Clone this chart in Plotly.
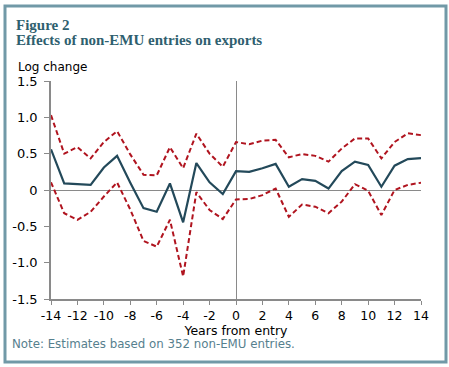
import plotly.graph_objects as go

years = list(range(-14, 15))
estimate = [0.56, 0.09, 0.08, 0.07, 0.31, 0.47, 0.10, -0.25, -0.30, 0.09, -0.445, 0.37, 0.105, -0.055,
            0.26, 0.25, 0.30, 0.36, 0.045, 0.15, 0.125, 0.02, 0.26, 0.39, 0.345, 0.045, 0.335, 0.425, 0.44]
upper = [1.03, 0.50, 0.59, 0.435, 0.66, 0.81, 0.49, 0.21, 0.20, 0.59, 0.30, 0.775, 0.50, 0.32,
         0.66, 0.63, 0.68, 0.69, 0.45, 0.495, 0.47, 0.39, 0.57, 0.71, 0.71, 0.435, 0.66, 0.78, 0.755]
lower = [0.105, -0.32, -0.41, -0.30, -0.09, 0.105, -0.27, -0.70, -0.78, -0.41, -1.19, -0.03, -0.275, -0.40,
         -0.13, -0.125, -0.07, 0.02, -0.37, -0.20, -0.23, -0.32, -0.16, 0.08, -0.01, -0.345, 0.0, 0.07, 0.10]
x_ticks = list(range(-14, 15, 2))
y_ticks = [-1.5, -1.0, -0.5, 0, 0.5, 1.0, 1.5]
y_tick_text = ["-1.5", "-1.0", "-0.5", "0", "0.5", "1.0", "1.5"]

W, H = 449, 367
L, R, T, B = 51, 28, 81, 68
pw, ph = W - L - R, H - T - B

def px(xp):
    return (xp - L) / pw

def py(yp):
    return (H - B - yp) / ph

red = "#b0141f"
teal = "#23495a"
axis_grey = "#8a8a8a"

fig = go.Figure()
fig.add_trace(go.Scatter(x=years, y=upper, mode="lines",
                         line=dict(color=red, width=2, dash="5px,3px"), showlegend=False))
fig.add_trace(go.Scatter(x=years, y=lower, mode="lines",
                         line=dict(color=red, width=2, dash="5px,3px"), showlegend=False))
fig.add_trace(go.Scatter(x=years, y=estimate, mode="lines",
                         line=dict(color=teal, width=2.2), showlegend=False))

fig.update_layout(
    width=W, height=H,
    margin=dict(l=L, r=R, t=T, b=B),
    paper_bgcolor="white", plot_bgcolor="white",
    font=dict(family="DejaVu Sans", size=12, color="black"),
    xaxis=dict(range=[-14, 14], tickvals=x_ticks, ticktext=[str(v) for v in x_ticks],
               showgrid=False, zeroline=True, zerolinecolor=axis_grey, zerolinewidth=1,
               showline=True, linecolor=axis_grey, linewidth=1.5,
               ticks="outside", ticklen=4, tickcolor=axis_grey,
               tickfont=dict(family="DejaVu Sans", size=12.5, color="black"),
               title=dict(text="Years from entry", standoff=0,
                          font=dict(family="DejaVu Sans", size=12.5, color="black"))),
    yaxis=dict(range=[-1.5, 1.5], tickvals=y_ticks, ticktext=y_tick_text,
               showgrid=False, zeroline=True, zerolinecolor=axis_grey, zerolinewidth=1,
               showline=True, linecolor=axis_grey, linewidth=1.5,
               ticks="outside", ticklen=5, tickcolor=axis_grey, ticklabelstandoff=4,
               tickfont=dict(family="DejaVu Sans", size=13, color="black")),
    shapes=[
        dict(type="rect", xref="paper", yref="paper",
             x0=px(5), x1=px(446), y0=py(6), y1=py(362),
             line=dict(color="#7199a7", width=3), layer="below"),
    ],
    annotations=[
        dict(text="<b>Figure 2</b>", xref="paper", yref="paper", x=px(14), y=py(15),
             xanchor="left", yanchor="top", showarrow=False,
             font=dict(family="Liberation Serif", size=15, color="#2f5f6f")),
        dict(text="<b>Effects of non-EMU entries on exports</b>", xref="paper", yref="paper",
             x=px(14), y=py(30), xanchor="left", yanchor="top", showarrow=False,
             font=dict(family="Liberation Serif", size=15, color="#2f5f6f")),
        dict(text="Log change", xref="paper", yref="paper", x=px(16), y=py(58),
             xanchor="left", yanchor="top", showarrow=False,
             font=dict(family="DejaVu Sans", size=12, color="black")),
        dict(text="Note: Estimates based on 352 non-EMU entries.", xref="paper", yref="paper",
             x=px(10), y=py(344), xanchor="left", yanchor="middle", showarrow=False,
             font=dict(family="DejaVu Sans", size=11.8, color="#56808e")),
    ],
)
fig.write_html("out.html", config={"displayModeBar": False},
               post_script="document.body.style.margin='0';document.body.style.overflow='hidden';")
